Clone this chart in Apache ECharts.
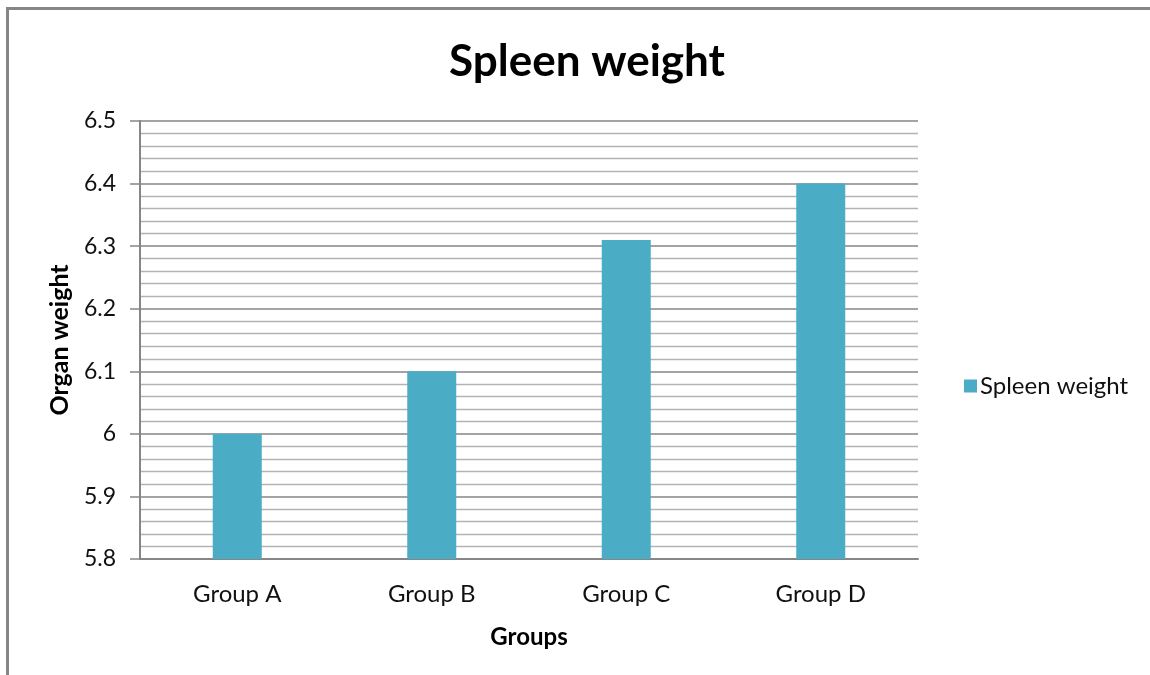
<!DOCTYPE html>
<html>
<head>
<meta charset="utf-8">
<script src="https://cdn.jsdelivr.net/npm/echarts@6/dist/echarts.min.js"></script>
<style>
  html, body { margin: 0; padding: 0; background: #fff; }
  #chart { width: 1150px; height: 675px; }
</style>
</head>
<body>
<div id="chart"></div>
<script>
// Spleen weight per group
const categories = ['Group A', 'Group B', 'Group C', 'Group D'];
const spleenWeight = [6.0, 6.1, 6.31, 6.4];
const yMin = 5.8;
const yMax = 6.5;
const yStep = 0.1;

const FONT = 'Lato, "Open Sans", sans-serif';

const chart = echarts.init(document.getElementById('chart'), null, { renderer: 'canvas' });
chart.setOption({
  backgroundColor: '#ffffff',
  animation: false,
  title: {
    text: 'Spleen weight',
    left: 582,
    top: 35,
    textAlign: 'center',
    textStyle: { fontFamily: FONT, fontWeight: 'bold', fontSize: 44, color: '#000' }
  },
  legend: {
    left: 959,
    top: 369,
    orient: 'vertical',
    itemWidth: 13,
    itemHeight: 13,
    itemGap: 5,
    icon: 'rect',
    textStyle: { fontFamily: FONT, fontSize: 24, color: '#111', padding: [0, 0, 0, -2] },
    data: ['Spleen weight']
  },
  graphic: [{
    type: 'rect',
    shape: { x: 7.5, y: 8.5, width: 2000, height: 2000 },
    style: { fill: 'none', stroke: '#868686', lineWidth: 3 },
    silent: true
  }],
  grid: { left: 140, right: 232, top: 121, bottom: 116 },
  xAxis: {
    type: 'category',
    data: categories,
    name: 'Groups',
    nameLocation: 'middle',
    nameGap: 66,
    nameTextStyle: { fontFamily: FONT, fontWeight: 'bold', fontSize: 24, color: '#000' },
    axisLine: { lineStyle: { color: '#868686', width: 2 } },
    axisTick: { show: false },
    axisLabel: { fontFamily: FONT, fontSize: 24, color: '#111', margin: 23 }
  },
  yAxis: {
    type: 'value',
    min: yMin,
    max: yMax,
    interval: yStep,
    name: 'Organ weight',
    nameLocation: 'middle',
    nameGap: 68,
    nameTextStyle: { fontFamily: FONT, fontWeight: 'bold', fontSize: 25, color: '#000' },
    axisLine: { show: true, lineStyle: { color: '#868686', width: 2 } },
    axisTick: { show: true, length: 10, lineStyle: { color: '#868686', width: 1.5 } },
    axisLabel: {
      fontFamily: FONT, fontSize: 23, color: '#111', margin: 24,
      formatter: v => String(Math.round(v * 10) / 10)
    },
    splitLine: { show: true, lineStyle: { color: '#868686', width: 1.5 } },
    minorTick: { show: false, splitNumber: 5 },
    minorSplitLine: { show: true, lineStyle: { color: '#b3b3b3', width: 1.3 } }
  },
  series: [{
    name: 'Spleen weight',
    type: 'bar',
    data: spleenWeight,
    barWidth: 49,
    itemStyle: { color: '#4bacc6' }
  }]
});
</script>
</body>
</html>
